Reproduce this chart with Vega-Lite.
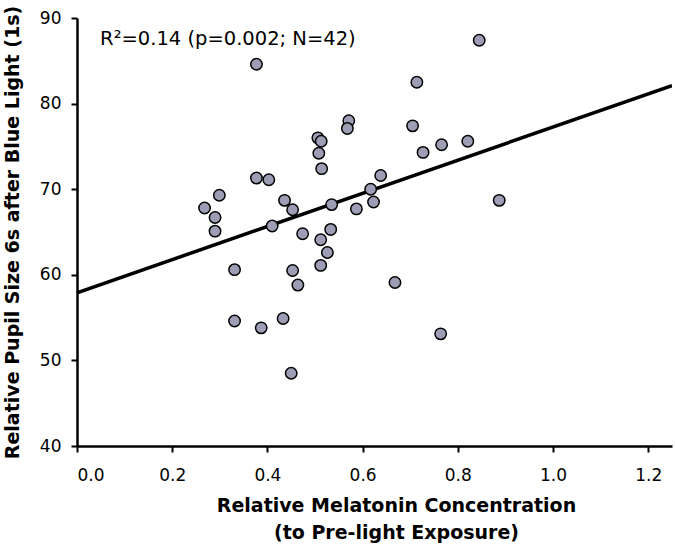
{
  "$schema": "https://vega.github.io/schema/vega-lite/v6.json",
  "width": 595,
  "height": 428,
  "autosize": {"type": "none"},
  "padding": {"left": 77, "top": 18, "right": 3, "bottom": 100},
  "background": "white",
  "config": {
    "view": {"stroke": null},
    "axis": {
      "grid": false,
      "domainColor": "black",
      "domainWidth": 2.5,
      "tickColor": "black",
      "tickWidth": 2,
      "tickSize": 6,
      "labelFont": "DejaVu Sans",
      "labelFontSize": 17,
      "labelColor": "black",
      "titleFont": "DejaVu Sans",
      "titleFontSize": 19,
      "titleFontWeight": "bold",
      "titleColor": "black"
    }
  },
  "datasets": {
    "pts": [
      {"mel": 0.377, "pupil": 84.6},
      {"mel": 0.268, "pupil": 67.8},
      {"mel": 0.290, "pupil": 66.7},
      {"mel": 0.290, "pupil": 65.1},
      {"mel": 0.299, "pupil": 69.3},
      {"mel": 0.377, "pupil": 71.3},
      {"mel": 0.403, "pupil": 71.1},
      {"mel": 0.410, "pupil": 65.7},
      {"mel": 0.436, "pupil": 68.7},
      {"mel": 0.453, "pupil": 67.6},
      {"mel": 0.474, "pupil": 64.8},
      {"mel": 0.506, "pupil": 76.0},
      {"mel": 0.513, "pupil": 75.6},
      {"mel": 0.508, "pupil": 74.2},
      {"mel": 0.514, "pupil": 72.4},
      {"mel": 0.535, "pupil": 68.2},
      {"mel": 0.533, "pupil": 65.3},
      {"mel": 0.512, "pupil": 64.1},
      {"mel": 0.526, "pupil": 62.6},
      {"mel": 0.512, "pupil": 61.1},
      {"mel": 0.331, "pupil": 60.6},
      {"mel": 0.453, "pupil": 60.5},
      {"mel": 0.464, "pupil": 58.8},
      {"mel": 0.331, "pupil": 54.6},
      {"mel": 0.387, "pupil": 53.8},
      {"mel": 0.433, "pupil": 54.9},
      {"mel": 0.450, "pupil": 48.5},
      {"mel": 0.845, "pupil": 87.4},
      {"mel": 0.714, "pupil": 82.5},
      {"mel": 0.571, "pupil": 78.0},
      {"mel": 0.568, "pupil": 77.1},
      {"mel": 0.705, "pupil": 77.4},
      {"mel": 0.727, "pupil": 74.3},
      {"mel": 0.766, "pupil": 75.2},
      {"mel": 0.821, "pupil": 75.6},
      {"mel": 0.638, "pupil": 71.6},
      {"mel": 0.617, "pupil": 70.0},
      {"mel": 0.623, "pupil": 68.5},
      {"mel": 0.587, "pupil": 67.7},
      {"mel": 0.887, "pupil": 68.7},
      {"mel": 0.668, "pupil": 59.1},
      {"mel": 0.764, "pupil": 53.1}
    ],
    "fit": [
      {"mel": 0.0, "pupil": 57.9},
      {"mel": 1.25, "pupil": 82.1}
    ],
    "note": [
      {"label": "R²=0.14 (p=0.002; N=42)"}
    ]
  },
  "layer": [
    {
      "data": {"name": "fit"},
      "mark": {"type": "line", "color": "black", "strokeWidth": 3.5, "clip": true},
      "encoding": {
        "x": {
          "field": "mel", "type": "quantitative",
          "scale": {"domain": [0, 1.25], "nice": false, "zero": false},
          "axis": {
            "values": [0, 0.2, 0.4, 0.6, 0.8, 1.0, 1.2],
            "format": ".1f",
            "labelPadding": 15,
            "title": ["Relative Melatonin Concentration", "(to Pre-light Exposure)"],
            "titleX": 319,
            "titleY": 65,
            "titleAlign": "center",
            "titleAnchor": null,
            "titleBaseline": "alphabetic",
            "titleLineHeight": 27
          }
        },
        "y": {
          "field": "pupil", "type": "quantitative",
          "scale": {"domain": [40, 90], "nice": false, "zero": false},
          "axis": {
            "values": [40, 50, 60, 70, 80, 90],
            "labelPadding": 10,
            "title": "Relative Pupil Size 6s after Blue Light (1s)",
            "titleX": -59,
            "titleY": 214,
            "titleAlign": "center",
            "titleAngle": -90,
            "titleBaseline": "alphabetic"
          }
        }
      }
    },
    {
      "data": {"name": "pts"},
      "mark": {"type": "point", "shape": "circle", "filled": true, "fill": "#9d9db5", "stroke": "black", "strokeWidth": 1.5, "size": 130, "opacity": 1},
      "encoding": {
        "x": {"field": "mel", "type": "quantitative"},
        "y": {"field": "pupil", "type": "quantitative"}
      }
    },
    {
      "data": {"name": "note"},
      "mark": {"type": "text", "font": "DejaVu Sans", "fontSize": 19.5, "align": "left", "baseline": "alphabetic", "color": "black"},
      "encoding": {
        "text": {"field": "label"},
        "x": {"datum": 0.0485, "type": "quantitative"},
        "y": {"datum": 86.9, "type": "quantitative"}
      }
    }
  ]
}
